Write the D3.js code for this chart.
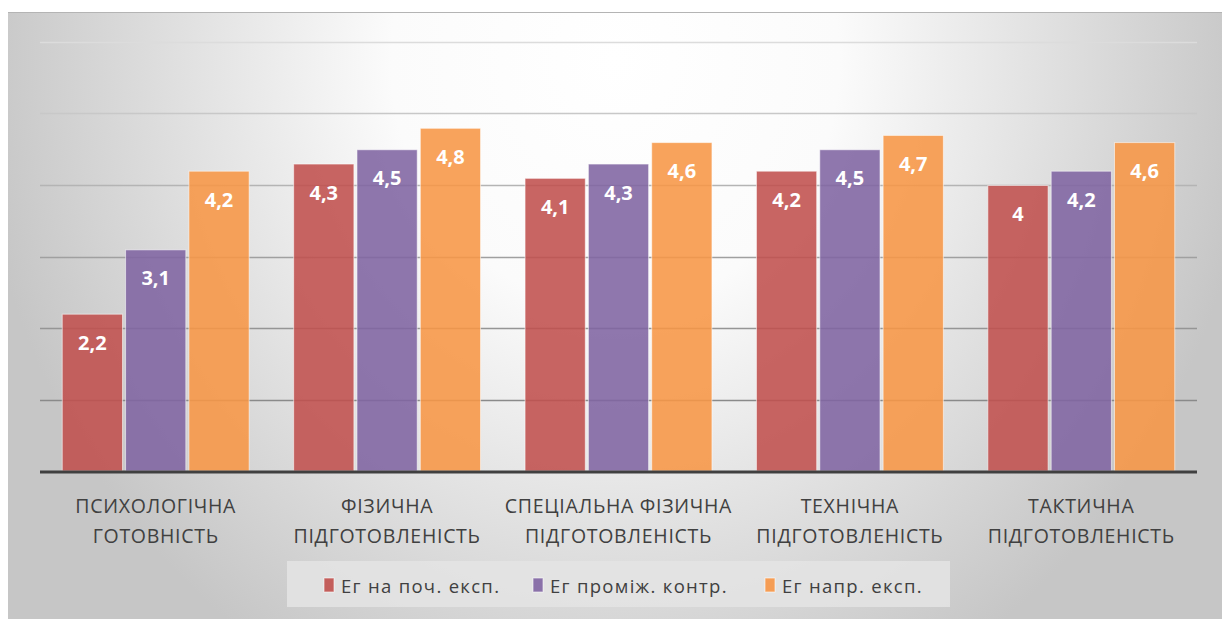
<!DOCTYPE html>
<html><head><meta charset="utf-8">
<script src="https://cdn.jsdelivr.net/npm/d3@7"></script>
<style>html,body{margin:0;padding:0;background:#fff;}svg{display:block;}</style>
</head><body><svg id="c" width="1230" height="619"></svg>
<script>
const categories = [
  ["ПСИХОЛОГІЧНА", "ГОТОВНІСТЬ"],
  ["ФІЗИЧНА", "ПІДГОТОВЛЕНІСТЬ"],
  ["СПЕЦІАЛЬНА ФІЗИЧНА", "ПІДГОТОВЛЕНІСТЬ"],
  ["ТЕХНІЧНА", "ПІДГОТОВЛЕНІСТЬ"],
  ["ТАКТИЧНА", "ПІДГОТОВЛЕНІСТЬ"]
];
const seriesNames = ["Ег на поч. експ.", "Ег проміж. контр.", "Ег напр. експ."];
const seriesStart = [2.2, 4.3, 4.1, 4.2, 4.0];
const seriesMid = [3.1, 4.5, 4.3, 4.5, 4.2];
const seriesEnd = [4.2, 4.8, 4.6, 4.7, 4.6];
const yTicks = [0, 1, 2, 3, 4, 5, 6];
const colors = ["#c0504d", "#8064a2", "#f79646"];

(function(){
const series = [seriesStart, seriesMid, seriesEnd];
const svg = d3.select("#c");
const defs = svg.append("defs");
const rg = defs.append("radialGradient").attr("id", "bg")
  .attr("gradientUnits", "userSpaceOnUse")
  .attr("cx", 615).attr("cy", 60).attr("r", 640)
  .attr("gradientTransform", "translate(615,60) scale(1,1.1) translate(-615,-60)");
rg.append("stop").attr("offset", 0).attr("stop-color", "#ffffff");
rg.append("stop").attr("offset", 0.35).attr("stop-color", "#fbfbfb");
rg.append("stop").attr("offset", 1).attr("stop-color", "#c6c6c6");

svg.append("rect").attr("x", 8).attr("y", 12).attr("width", 1214).attr("height", 607).attr("fill", "url(#bg)");
svg.append("line").attr("x1", 8).attr("x2", 1222).attr("y1", 12.5).attr("y2", 12.5).attr("stroke", "#b4b4b4").attr("stroke-width", 1);

const pL = 40, pR = 1197, pT = 42, pB = 471;
const x0 = d3.scaleBand().domain(d3.range(categories.length)).range([pL, pR]).paddingInner(0.188).paddingOuter(0.094);
const x1 = d3.scaleBand().domain(d3.range(series.length)).range([0, x0.bandwidth()]).paddingInner(0.033);
const y = d3.scaleLinear().domain([0, 6]).range([pB, pT]);
const gridColor = d3.scaleLinear().domain([6, 3, 1]).range(["#dcdcdc", "#a0a0a0", "#8a8a8a"]);

const grid = svg.append("g");
grid.selectAll("line").data(yTicks.filter(d => d > 0)).join("line")
  .attr("x1", pL).attr("x2", pR)
  .attr("y1", d => Math.round(y(d)) + 0.5).attr("y2", d => Math.round(y(d)) + 0.5)
  .attr("stroke", d => gridColor(d)).attr("stroke-width", 1.3);

const groups = svg.append("g").selectAll("g").data(categories).join("g")
  .attr("transform", (d, i) => `translate(${x0(i)},0)`);
groups.each(function(c, ci) {
  const g = d3.select(this);
  series.forEach((s, si) => {
    const v = s[ci];
    g.append("rect")
      .attr("x", x1(si) + 0.5).attr("y", y(v) + 0.5)
      .attr("width", x1.bandwidth() - 1).attr("height", pB - y(v) - 0.5)
      .attr("fill", colors[si]).attr("fill-opacity", 0.88)
      .attr("stroke", "#ffffff").attr("stroke-opacity", 0.55).attr("stroke-width", 1);
    g.append("text")
      .attr("x", x1(si) + x1.bandwidth() / 2).attr("y", y(v) + 36)
      .attr("text-anchor", "middle")
      .attr("font-family", "'Open Sans', sans-serif").attr("font-weight", "bold")
      .attr("font-size", 20).attr("fill", "#ffffff")
      .text(String(v).replace(".", ","));
  });
});

svg.append("line").attr("x1", pL).attr("x2", pR).attr("y1", pB + 1).attr("y2", pB + 1)
  .attr("stroke", "#404040").attr("stroke-width", 3);

const xl = svg.append("g");
categories.forEach((lines, i) => {
  const cx = x0(i) + x0.bandwidth() / 2;
  lines.forEach((t, li) => {
    xl.append("text").attr("x", cx).attr("y", 513 + li * 30)
      .attr("text-anchor", "middle")
      .attr("font-family", "'Open Sans', sans-serif").attr("font-size", 19.5)
      .attr("letter-spacing", 0.7)
      .attr("fill", "#404040").text(t);
  });
});

const leg = svg.append("g");
leg.append("rect").attr("x", 287).attr("y", 561).attr("width", 663).attr("height", 46).attr("fill", "#e4e4e4").attr("fill-opacity", 0.85);
const legX = [324, 533, 765];
seriesNames.forEach((n, i) => {
  leg.append("rect").attr("x", legX[i]).attr("y", 578).attr("width", 10).attr("height", 14)
    .attr("fill", colors[i]).attr("fill-opacity", 0.9).attr("stroke", "#fff").attr("stroke-opacity", 0.6);
  leg.append("text").attr("x", legX[i] + 17).attr("y", 593)
    .attr("font-family", "'Open Sans', sans-serif").attr("font-size", 18.5)
    .attr("letter-spacing", 1.3)
    .attr("fill", "#404040").text(n);
});
})();
</script></body></html>
